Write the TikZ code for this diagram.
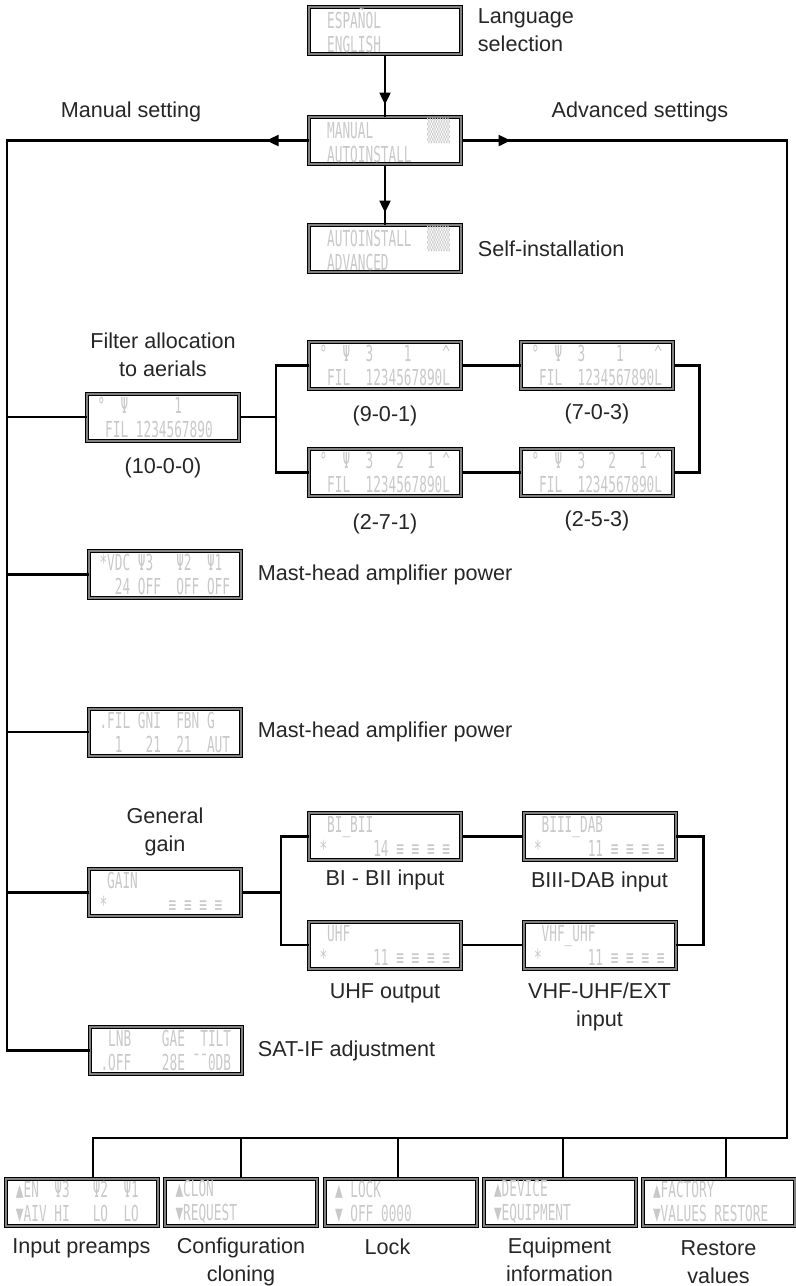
\documentclass[tikz,border=0pt]{standalone}
\usepackage{fontspec}
\usepackage{graphicx}
\setmainfont{Liberation Sans}
\newfontfamily\lcdfamily{DejaVu Sans Mono}
\usetikzlibrary{arrows.meta,decorations.markings,positioning}

% one row of the display, a blank (~) is one full cell
\newcommand\lcdrow[1]{\scalebox{0.58}[1]{\def~{\hphantom{0}}#1}}
\newcommand\lcdrows[2]{\lcdrow{#1}\\\lcdrow{#2}}

\tikzset{
  lcd/.style={draw=black, line width=0.5pt, double=gray, double distance=1pt,
    fill=white, minimum width=76pt, minimum height=23.5pt, inner sep=0pt,
    text width=65.5pt, align=left, text=gray!42,
    font=\lcdfamily\fontsize{11}{12}\selectfont},
  caption/.style={font=\fontsize{10.8}{14}\selectfont, text=black!85,
    inner sep=0pt, align=center},
  conn/.style={line width=1.2pt},
  midarrow/.style={postaction={decorate}, decoration={markings,
    mark=at position #1 with {\arrow{Triangle[length=6pt,width=5.5pt]}}}},
}

\begin{document}
\begin{tikzpicture}[x=0.5pt, y=-0.5pt]

\fill[white] (0,0) rectangle (796,1286);
\useasboundingbox (0,0) rectangle (796,1286);

% top column
\node [lcd] (Lang) at (385,30.5) {\lcdrows{~ESPAÑOL}{~ENGLISH}};
\node [lcd] (Man) at (385,140.5) {\lcdrows{~MANUAL~~~~~~~▒▒▒}{~AUTOINSTALL}};
\node [lcd] (Auto) at (385,248.5) {\lcdrows{~AUTOINSTALL~~▒▒▒}{~ADVANCED}};

\node [caption, align=left, right=8pt of Lang] (LangCap) {Language\\selection};
\node [caption, right=8pt of Auto] (AutoCap) {Self-installation};
\node [caption] (ManCap) at (131,112) {Manual setting};
\node [caption] (AdvCap) at (640,112) {Advanced settings};

% filters
\node [lcd] (F0) at (163,417) {\lcdrows{°~~Ψ~~~~~~1}{~FIL~1234567890}};
\node [lcd] (F1) at (385,365.5) {\lcdrows{°~~Ψ~~3~~~~1~~~~\textasciicircum}{~FIL~~1234567890L}};
\node [lcd] (F2) at (385,472.5) {\lcdrows{°~~Ψ~~3~~~2~~~1~\textasciicircum}{~FIL~~1234567890L}};
\node [lcd] (F3) at (597,365.5) {\lcdrows{°~~Ψ~~3~~~~1~~~~\textasciicircum}{~FIL~~1234567890L}};
\node [lcd] (F4) at (597,472.5) {\lcdrows{°~~Ψ~~3~~~2~~~1~\textasciicircum}{~FIL~~1234567890L}};

\node [caption, above=8pt of F0] (F0Top) {Filter allocation\\to aerials};
\node [caption, below=8pt of F0] (F0Cap) {(10-0-0)};
\node [caption, below=8pt of F1] (F1Cap) {(9-0-1)};
\node [caption, below=8.5pt of F2] (F2Cap) {(2-7-1)};
\node [caption, below=7pt of F3] (F3Cap) {(7-0-3)};
\node [caption, below=7pt of F4] (F4Cap) {(2-5-3)};

% mast-head
\node [lcd] (Mh1) at (165,574.5) {\lcdrows{*VDC~Ψ3~~~Ψ2~~Ψ1}{~~24~OFF~~OFF~OFF}};
\node [lcd] (Mh2) at (165,732) {\lcdrows{.FIL~GNI~~FBN~G}{~~1~~~21~~21~~AUT}};
\node [caption, right=8pt of Mh1] (Mh1Cap) {Mast-head amplifier power};
\node [caption, right=8pt of Mh2] (Mh2Cap) {Mast-head amplifier power};

% gain
\node [lcd] (Gain) at (165,892.5) {\lcdrows{~GAIN}{*~~~~~~~~≡~≡~≡~≡}};
\node [lcd] (Bi) at (385,836.5) {\lcdrows{~BI\_BII}{*~~~~~~14~≡~≡~≡~≡}};
\node [lcd] (Uhf) at (385,945) {\lcdrows{~UHF}{*~~~~~~11~≡~≡~≡~≡}};
\node [lcd] (Biii) at (599.5,836.5) {\lcdrows{~BIII\_DAB}{*~~~~~~11~≡~≡~≡~≡}};
\node [lcd] (Vhf) at (599.5,945) {\lcdrows{~VHF\_UHF}{*~~~~~~11~≡~≡~≡~≡}};

\node [caption, above=6pt of Gain] (GainTop) {General\\gain};
\node [caption, below=4.5pt of Bi] (BiCap) {BI - BII input};
\node [caption, below=7pt of Uhf] (UhfCap) {UHF output};
\node [caption, below=5.5pt of Biii] (BiiiCap) {BIII-DAB input};
\node [caption, below=6.5pt of Vhf] (VhfCap) {VHF-UHF/EXT\\input};

% sat
\node [lcd] (Sat) at (166,1050.5) {\lcdrows{~LNB~~~~GAE~~TILT}{.OFF~~~~28E~¯¯0DB}};
\node [caption, right=7.5pt of Sat] (SatCap) {SAT-IF adjustment};

% advanced row
\node [lcd] (Pre) at (81.5,1202) {\lcdrows{▲EN~~Ψ3~~~Ψ2~~Ψ1}{▼AIV~HI~~~LO~~LO}};
\node [lcd] (Cfg) at (241,1202) {\lcdrows{▲CLON}{▼REQUEST}};
\node [lcd] (Lk) at (400.5,1202) {\lcdrows{▲~LOCK}{▼~OFF~0000}};
\node [lcd] (Eq) at (559.5,1202) {\lcdrows{▲DEVICE}{▼EQUIPMENT}};
\node [lcd] (Rst) at (718.5,1202) {\lcdrows{▲FACTORY}{▼VALUES~RESTORE}};

\node [caption, below=6pt of Pre] (PreCap) {Input preamps};
\node [caption, below=5.5pt of Cfg] (CfgCap) {Configuration\\cloning};
\node [caption, below=6pt of Lk, xshift=-6.5pt] (LkCap) {Lock};
\node [caption, below=5.5pt of Eq] (EqCap) {Equipment\\information};
\node [caption, below=7pt of Rst] (RstCap) {Restore\\values};

% connectors
\coordinate (LBus) at (7,140.5);
\coordinate (RBus) at (787,140.5);
\coordinate (BBus) at (93,1138);
\coordinate (FJ) at (276,417);
\coordinate (GJ) at (281,892.5);

\draw[conn, midarrow=25pt] (Lang) -- (Man);
\draw[conn, midarrow=24pt] (Man) -- (Auto);
\draw[conn, midarrow=21pt] (Man.west) -- (LBus) |- (Sat.west);
\draw[conn, midarrow=24.5pt] (Man.east) -- (RBus) |- (BBus) -- (BBus |- Pre.north);

\foreach \n in {F0,Mh1,Mh2,Gain}
  \draw[conn] (\n.west) -- (\n.west -| LBus);
\foreach \n/\dx in {Cfg/0pt,Lk/-1.25pt,Eq/1.75pt,Rst/3.75pt}
  \draw[conn] (\n.north) ++(\dx,0) -- ++(0,-40.5);

\draw[conn] (F0.east) -- (F0.east -| FJ);
\draw[conn] (F1.west) -| (FJ) |- (F2.west);
\draw[conn] (F1) -- (F3);
\draw[conn] (F2) -- (F4);
\draw[conn] (F3.east) -- ++(26,0) |- (F4.east);

\draw[conn] (Gain.east) -- (Gain.east -| GJ);
\draw[conn] (Bi.west) -| (GJ) |- (Uhf.west);
\draw[conn] (Bi) -- (Biii);
\draw[conn] (Uhf) -- (Vhf);
\draw[conn] (Biii.east) -- ++(27.5,0) |- (Vhf.east);

\end{tikzpicture}
\end{document}
